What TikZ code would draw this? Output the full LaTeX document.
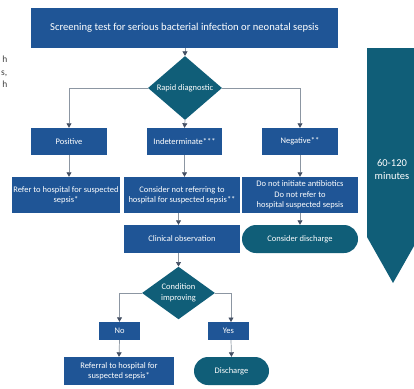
\documentclass[tikz,border=0pt]{standalone}
\usepackage{fontspec}
\setmainfont{Carlito}
\usetikzlibrary{shapes.geometric,arrows.meta}
\definecolor{boxblue}{RGB}{31,85,150}
\definecolor{boxteal}{RGB}{16,94,120}
\definecolor{lineg}{RGB}{140,150,162}
\definecolor{tipg}{RGB}{68,80,100}
\definecolor{sidetext}{RGB}{64,64,64}
\tikzset{
  bluebox/.style={draw=none,fill=boxblue,text=white,align=center,inner sep=1pt,
    font=\fontsize{8.5}{10.5}\selectfont,minimum width=#1},
  tealround/.style={fill=boxteal,text=white,align=center,inner sep=1pt,
    font=\fontsize{8.5}{10.5}\selectfont,minimum width=#1,rounded corners=14pt},
  decision/.style={diamond,fill=boxteal,text=white,align=center,inner sep=0pt,
    font=\fontsize{8.5}{10.5}\selectfont},
  conn/.style={draw=lineg,line width=0.7pt,-{Triangle[length=4.5pt,width=5pt,color=tipg]}},
}
\begin{document}
\begin{tikzpicture}[x=1pt,y=-1pt]
\useasboundingbox (0,0) rectangle (414,388);
% left cropped text fragments
\node[anchor=east,align=right,text=sidetext,inner sep=0pt,font=\fontsize{9.5}{12.5}\selectfont] (frag) at (7.5,72) {h\\s,\\h};
% big time arrow
\fill[boxteal] (367,48) -- (414,48) -- (414,246) -- (393,283) -- (367,237) -- cycle;
\node[text=white,align=center,font=\fontsize{10.5}{13}\selectfont,inner sep=0pt] (time) at (392,169.5) {60-120\\minutes};
% nodes
\node[bluebox=307pt,minimum height=40pt,font=\fontsize{10.6}{12}\selectfont] (top) at (184.5,28) {Screening test for serious bacterial infection or neonatal sepsis};
\node[decision,minimum width=74pt,minimum height=46pt] (d1) at (185,88) {Rapid diagnostic};
\node[bluebox=76pt,minimum height=27pt] (pos) at (69,141.5) {Positive};
\node[bluebox=75pt,minimum height=27pt] (ind) at (184.5,141.5) {Indeterminate***};
\node[bluebox=76pt,minimum height=27pt] (neg) at (300,141.5) {Negative**};
\node[bluebox=108pt,minimum height=36pt] (refer) at (66,195) {Refer to hospital for suspected\\sepsis*};
\node[bluebox=116pt,minimum height=36pt] (consider) at (182,195) {Consider not referring to\\hospital for suspected sepsis**};
\node[bluebox=116pt,minimum height=36pt] (donot) at (300,195) {Do not initiate antibiotics\\Do not refer to\\hospital suspected sepsis};
\node[bluebox=116pt,minimum height=28pt] (clin) at (182,239) {Clinical observation};
\node[tealround=116pt,minimum height=28pt] (cdis) at (300,239) {Consider discharge};
\node[decision,minimum width=73pt,minimum height=36pt] (d2) at (178.5,293) {Condition\\improving};
\node[bluebox=41pt,minimum height=18pt] (no) at (119.5,331) {No};
\node[bluebox=41pt,minimum height=18pt] (yes) at (228.5,331) {Yes};
\node[bluebox=110pt,minimum height=28pt] (referral) at (119,371) {Referral to hospital for\\suspected sepsis*};
\node[tealround=75pt,minimum height=28pt] (dis) at (231.5,371) {Discharge};
% connectors
\draw[conn] (top.south -| d1.north) -- (d1.north);
\draw[conn] (d1.west) -| (pos.north);
\draw[conn] (d1.south) -- (ind.north);
\draw[conn] (d1.east) -| (neg.north);
\draw[conn] (pos.south) -- (pos.south |- refer.north);
\draw[conn] (ind.south) -- (ind.south |- consider.north);
\draw[conn] (neg.south) -- (neg.south |- donot.north);
\draw[conn] (consider.south -| d2.north) -- (clin.north -| d2.north);
\draw[conn] (donot.south) -- (cdis.north);
\draw[conn] (clin.south -| d2.north) -- (d2.north);
\draw[conn] (d2.west) -| (no.north);
\draw[conn] (d2.east) -| (231,322);
\draw[conn] (no.south) -- (referral.north);
\draw[conn] (yes.south -| 231,0) -- (dis.north);
\end{tikzpicture}
\end{document}
